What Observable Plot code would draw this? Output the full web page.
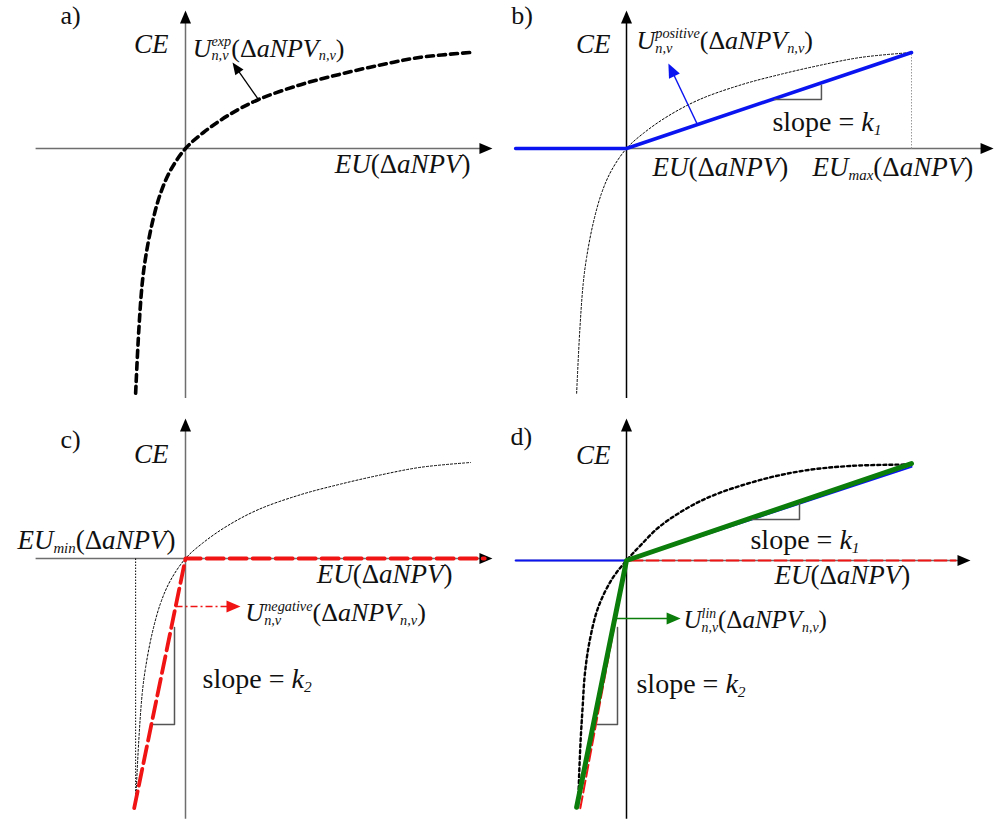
<!DOCTYPE html>
<html>
<head>
<meta charset="utf-8">
<script src="https://cdn.jsdelivr.net/npm/d3@7"></script>
<script src="https://cdn.jsdelivr.net/npm/@observablehq/plot@0.6"></script>
<style>
  html, body { margin: 0; padding: 0; background: #fff; }
  #fig { position: relative; width: 996px; height: 821px; overflow: hidden; background: #fff; }
  #fig svg { position: absolute; }
</style>
</head>
<body>
<div id="fig"></div>
<script>
// Exponential utility U_exp(EU), normalised so that EU_max = 1 and CE(EU_max) = 1
const expEU = [-0.175, -0.164, -0.152, -0.140, -0.117, -0.088, -0.053, 0, 0.063, 0.147, 0.256, 0.404, 0.544, 0.684, 0.825, 1.0];
const expCE = [-2.55, -1.90, -1.41, -1.135, -0.78, -0.47, -0.23, 0, 0.167, 0.34, 0.51, 0.665, 0.775, 0.87, 0.95, 1.0];

// The same utility as drawn in the combined panel d)
const expEUd = [-0.170, -0.166, -0.161, -0.154, -0.146, -0.129, -0.099, -0.05, 0, 0.05, 0.119, 0.26, 0.435, 0.61, 0.786, 1.0];
const expCEd = [-2.57, -2.22, -1.875, -1.53, -1.18, -0.833, -0.486, -0.19, 0, 0.16, 0.36, 0.62, 0.81, 0.93, 0.985, 1.0];

// Piecewise-linear approximations (slope k1 for gains, slope k2 for losses)
const positiveEU = [-0.389, 0, 1.0];
const positiveCE = [0, 0, 1.0];
const negativeEU = [-0.18, 0, 1.05];
const negativeCE = [-2.6, 0, 0];
const linEU = [-0.175, 0, 1.0];
const linCE = [-2.57, 0, 1.01];
const positiveEUd = [-0.389, 0, 1.0];
const positiveCEd = [0, 0, 0.975];
const negativeEUd = [-0.162, 0, 1.155];
const negativeCEd = [-2.58, 0, 0];

const EUmax = 1.0;
const EUmin = -0.175;
const EUminDepth = -2.45;

// Pixels per unit on each axis, shared by all panels
const UX = 285, UY = 96;
const zip = (a, b) => a.map((v, i) => [v, b[i]]);

// Filled arrowhead, apex at the anchor point, pointing along `angle` (degrees, screen space)
function head(angle, L = 13, W = 5.5) {
  const t = angle * Math.PI / 180, c = Math.cos(t), s = Math.sin(t);
  return {
    draw(ctx) {
      ctx.moveTo(0, 0);
      ctx.lineTo(-L * c - W * s, -L * s + W * c);
      ctx.lineTo(-L * c + W * s, -L * s - W * c);
      ctx.closePath();
    }
  };
}

function pointer(base, tip, color, {dash, L = 13, W = 5.5, width = 1.3} = {}) {
  const dxp = (tip[0] - base[0]) * UX, dyp = -(tip[1] - base[1]) * UY;
  const a = Math.atan2(dyp, dxp);
  const end = [tip[0] - (L * 0.8 * Math.cos(a)) / UX, tip[1] + (L * 0.8 * Math.sin(a)) / UY];
  return [
    Plot.link([{base, end}], {
      x1: d => d.base[0], y1: d => d.base[1], x2: d => d.end[0], y2: d => d.end[1],
      stroke: color, strokeWidth: width, strokeDasharray: dash
    }),
    Plot.dot([tip], {x: d => d[0], y: d => d[1], symbol: head(a * 180 / Math.PI, L, W), fill: color, stroke: "none"})
  ];
}

function axes(xr, yr, xColor = "#6e6e6e", yColor = "#6e6e6e") {
  const L = 13;
  return [
    Plot.link([{x1: xr[0], x2: xr[1] - (L - 2) / UX}], {x1: "x1", x2: "x2", y1: () => 0, y2: () => 0, stroke: xColor, strokeWidth: 1.5}),
    Plot.link([{y1: yr[0], y2: yr[1] - (L - 2) / UY}], {y1: "y1", y2: "y2", x1: () => 0, x2: () => 0, stroke: yColor, strokeWidth: 1.5}),
    Plot.dot([[xr[1], 0]], {x: d => d[0], y: d => d[1], symbol: head(0, L, 5.5), fill: "#000", stroke: "none"}),
    Plot.dot([[0, yr[1]]], {x: d => d[0], y: d => d[1], symbol: head(-90, L, 5.5), fill: "#000", stroke: "none"})
  ];
}

const line = (pts, opts) => Plot.line(pts, {x: d => d[0], y: d => d[1], ...opts});

function labels(rows) {
  const common = {x: "x", y: "y", text: "text", fontSize: "size", fontFamily: "Liberation Serif", lineAnchor: "bottom", fill: "#111"};
  return [
    Plot.text(rows.filter(d => d.anchor !== "end"), {...common, textAnchor: "start"}),
    Plot.text(rows.filter(d => d.anchor === "end"), {...common, textAnchor: "end"})
  ];
}

// Mini markup: *...* toggles italics, ^{..} superscript, _{..} subscript
function tokens(s) {
  const out = [];
  let italic = false, buf = "", i = 0;
  const flush = () => { if (buf) out.push({t: buf, italic, pos: 0}); buf = ""; };
  while (i < s.length) {
    const c = s[i];
    if (c === "*") { flush(); italic = !italic; i++; }
    else if ((c === "^" || c === "_") && s[i + 1] === "{") {
      flush();
      const j = s.indexOf("}", i);
      out.push({t: s.slice(i + 2, j), italic: true, pos: c === "^" ? 1 : -1});
      i = j + 1;
    } else { buf += c; i++; }
  }
  flush();
  return out;
}

const SVGNS = "http://www.w3.org/2000/svg";
function richText(svg) {
  for (const el of svg.querySelectorAll("text")) {
    const src = el.textContent;
    if (!/[*^_]/.test(src)) continue;
    const fs = parseFloat(getComputedStyle(el).fontSize);
    const ss = fs * 0.55;
    el.textContent = "";
    let shift = 0, pending = 0, lastSup = null;
    for (const tok of tokens(src)) {
      const ts = document.createElementNS(SVGNS, "tspan");
      ts.textContent = tok.t;
      ts.setAttribute("font-style", tok.italic ? "italic" : "normal");
      let target = 0;
      if (tok.pos) {
        ts.setAttribute("font-size", ss);
        target = tok.pos > 0 ? -0.4 * fs : 0.15 * fs;
      }
      let dx = pending; pending = 0;
      if (tok.pos < 0 && lastSup) dx -= lastSup;
      if (target - shift) ts.setAttribute("dy", target - shift);
      shift = target;
      if (dx) ts.setAttribute("dx", dx);
      el.append(ts);
      if (tok.pos > 0) lastSup = ts.getComputedTextLength();
      else {
        if (tok.pos < 0 && lastSup != null) pending = Math.max(0, lastSup - ts.getComputedTextLength());
        lastSup = null;
      }
    }
  }
}

const fig = document.getElementById("fig");
function panel(left, top, oy, marks) {
  const svg = Plot.plot({
    width: 555, height: 411, margin: 0,
    x: {domain: [0, 1], range: [185, 185 + UX], axis: null},
    y: {domain: [0, 1], range: [oy, oy - UY], axis: null},
    style: {background: "transparent", overflow: "visible"},
    marks
  });
  svg.style.left = left + "px";
  svg.style.top = top + "px";
  fig.append(svg);
  richText(svg);
}

const BLUE = "#0a14f0", RED = "#f01414", GREEN = "#0a7d0a", GREY = "#555";

// a) exponential utility
panel(0, 0, 148, [
  ...axes([-0.526, 1.077], [-2.6, 1.4375]),
  line(zip(expEU, expCE), {stroke: "#000", strokeWidth: 3.6, strokeDasharray: "7,5", curve: "catmull-rom"}),
  ...pointer([0.256, 0.51], [0.165, 0.896], "#000", {L: 12, W: 5}),
  ...labels([
    {x: -0.439, y: 1.302, text: "a)", size: 26},
    {x: 0.025, y: 0.958, text: "*U*^{exp}_{n,v}(Δ*aNPV*_{n,v})", size: 26},
    {x: -0.06, y: 0.99, text: "*CE*", size: 27, anchor: "end"},
    {x: 1.0, y: -0.26, text: "*EU*(Δ*aNPV*)", size: 27, anchor: "end"}
  ])
]);

// b) positive branch, slope k1
panel(441, 0, 148, [
  ...axes([-0.389, 1.288], [-2.6, 1.4375], "#6e6e6e", "#000"),
  Plot.link([{x: EUmax, y: 1}], {x1: "x", x2: "x", y1: () => 0, y2: "y", stroke: "#999", strokeWidth: 1, strokeDasharray: "1.5,1.5"}),
  line(zip(expEU, expCE), {stroke: "#000", strokeWidth: 1, strokeDasharray: "2,2", curve: "catmull-rom"}),
  line(zip(positiveEU, positiveCE), {stroke: BLUE, strokeWidth: 3.6}),
  line([[0.52, 0.51], [0.684, 0.51], [0.684, 0.66]], {stroke: GREY, strokeWidth: 1.5}),
  ...pointer([0.249, 0.249], [0.147, 0.885], BLUE, {L: 14, W: 6}),
  ...labels([
    {x: -0.404, y: 1.302, text: "b)", size: 26},
    {x: 0.035, y: 1.04, text: "*U*^{positive}_{n,v}(Δ*aNPV*_{n,v})", size: 26},
    {x: 0.512, y: 0.1875, text: "slope = *k*_{1}", size: 28},
    {x: 0.091, y: -0.29, text: "*EU*(Δ*aNPV*)", size: 27},
    {x: 0.653, y: -0.29, text: "*EU*_{max}(Δ*aNPV*)", size: 27},
    {x: -0.056, y: 0.99, text: "*CE*", size: 27, anchor: "end"}
  ])
]);

// c) negative branch, slope k2
panel(0, 410, 148, [
  ...axes([-0.526, 1.077], [-2.71, 1.458]),
  Plot.link([{x: EUmin, y: EUminDepth}], {x1: "x", x2: "x", y1: () => 0, y2: "y", stroke: "#000", strokeWidth: 1, strokeDasharray: "1.5,1.5"}),
  line(zip(expEU, expCE), {stroke: "#000", strokeWidth: 1, strokeDasharray: "2,2", curve: "catmull-rom"}),
  line(zip(negativeEU, negativeCE), {stroke: RED, strokeWidth: 3.8, strokeDasharray: "17,6"}),
  line([[-0.112, -1.729], [-0.0386, -1.729], [-0.0386, -0.719]], {stroke: GREY, strokeWidth: 1.5}),
  ...pointer([-0.035, -0.5], [0.193, -0.5], RED, {L: 14, W: 6, dash: "7,3,2,3"}),
  ...labels([
    {x: -0.439, y: 1.156, text: "c)", size: 26},
    {x: 0.21, y: -0.656, text: "*U*^{negative}_{n,v}(Δ*aNPV*_{n,v})", size: 26},
    {x: 0.06, y: -1.344, text: "slope = *k*_{2}", size: 28},
    {x: -0.06, y: 0.99, text: "*CE*", size: 27, anchor: "end"},
    {x: -0.035, y: 0.104, text: "*EU*_{min}(Δ*aNPV*)", size: 27, anchor: "end"},
    {x: 0.937, y: -0.26, text: "*EU*(Δ*aNPV*)", size: 27, anchor: "end"}
  ])
]);

// d) combined piecewise-linear utility
panel(441, 410, 150, [
  ...axes([-0.389, 1.207], [-2.69, 1.479], "#6e6e6e", "#000"),
  line(zip(expEUd, expCEd), {stroke: "#000", strokeWidth: 2.4, strokeDasharray: "3,3", curve: "catmull-rom"}),
  line(zip(negativeEUd, negativeCEd), {stroke: RED, strokeWidth: 2, strokeDasharray: "12,4"}),
  line(zip(positiveEUd, positiveCEd), {stroke: BLUE, strokeWidth: 2}),
  line(zip(linEU, linCE), {stroke: GREEN, strokeWidth: 5}),
  line([[0.442, 0.427], [0.607, 0.427], [0.607, 0.594]], {stroke: GREY, strokeWidth: 1.5}),
  line([[-0.102, -1.708], [-0.0316, -1.708], [-0.0316, -0.698]], {stroke: GREY, strokeWidth: 1.5}),
  ...pointer([-0.04, -0.604], [0.19, -0.604], GREEN, {L: 14, W: 6}),
  ...labels([
    {x: -0.407, y: 1.198, text: "d)", size: 26},
    {x: 0.435, y: 0.125, text: "slope = *k*_{1}", size: 28},
    {x: 0.2, y: -0.708, text: "*U*^{lin}_{n,v}(Δ*aNPV*_{n,v})", size: 25},
    {x: 0.035, y: -1.375, text: "slope = *k*_{2}", size: 28},
    {x: -0.056, y: 1.01, text: "*CE*", size: 27, anchor: "end"},
    {x: 0.996, y: -0.24, text: "*EU*(Δ*aNPV*)", size: 27, anchor: "end"}
  ])
]);
</script>
</body>
</html>
